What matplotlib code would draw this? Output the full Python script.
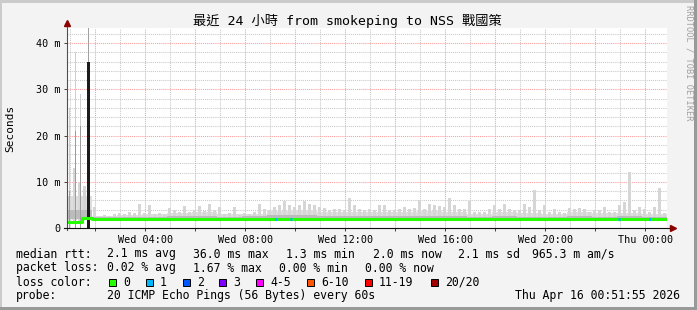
import matplotlib
matplotlib.use('Agg')
import matplotlib.pyplot as plt
import matplotlib.dates as mdates
from matplotlib.patches import Rectangle
from matplotlib.ticker import MultipleLocator, FuncFormatter
import numpy as np
import pandas as pd

# ---- data (ms) ----
t_start = '2026-04-15 00:51:55'
t_end = '2026-04-16 00:51:55'

# top of the light smoke, one value per 12 min
smoke_hi = [7.0, 13.0, 10.0, 9.0, 4.5, 4.5, 2.6, 2.8, 2.6, 3.0,
            3.2, 3.0, 3.4, 3.3, 5.1, 3.3, 4.9, 3.0, 3.2, 2.9,
            4.3, 4.0, 3.4, 4.8, 3.5, 3.9, 4.8, 3.6, 5.3, 3.9,
            4.5, 3.0, 3.2, 4.6, 2.9, 3.2, 3.0, 3.4, 5.3, 4.2,
            4.0, 4.6, 5.0, 5.8, 5.0, 4.6, 5.0, 5.8, 5.3, 4.9,
            4.6, 4.3, 4.0, 4.2, 4.2, 3.8, 6.6, 5.0, 4.2, 4.0,
            4.2, 3.9, 5.0, 5.0, 3.9, 3.8, 4.2, 4.6, 4.2, 4.4,
            6.0, 4.2, 5.3, 5.0, 4.8, 4.6, 6.5, 5.0, 4.2, 4.2,
            5.8, 3.5, 3.4, 3.5, 4.2, 5.0, 4.2, 5.3, 4.2, 4.0,
            3.9, 5.2, 4.6, 8.2, 3.9, 5.0, 3.4, 4.2, 3.4, 3.2,
            4.3, 4.2, 4.4, 4.2, 3.5, 3.9, 3.9, 4.6, 3.5, 3.5,
            5.0, 5.7, 12.2, 3.9, 4.6, 4.2, 3.5, 4.6, 8.6, 3.2]

# median rtt, one value per 12 min
median = [1.3, 1.3, 1.3, 2.1, 2.1, 2.05, 1.85, 2.05, 2.05, 2.05,
          2.05, 2.05, 1.85, 2.05, 2.05, 2.05, 2.05, 1.85, 2.05, 1.85,
          2.05, 2.05, 2.05, 2.05, 2.05, 1.85, 2.05, 2.05, 2.05, 2.05,
          2.05, 2.05, 1.85, 2.05, 2.05, 2.05, 2.05, 2.05, 2.05, 1.85,
          2.05, 2.05, 1.95, 2.05, 2.05, 1.85, 2.05, 2.05, 2.05, 2.05,
          1.85, 2.05, 2.05, 2.05, 2.05, 2.05, 2.05, 1.85, 2.05, 2.05,
          2.05, 2.05, 1.85, 2.05, 2.05, 2.05, 2.05, 2.05, 2.05, 2.05,
          2.05, 2.05, 2.05, 1.85, 2.05, 2.05, 2.05, 2.05, 2.05, 2.05,
          2.05, 1.85, 1.85, 2.05, 2.05, 2.05, 2.05, 2.05, 2.05, 2.05,
          2.05, 1.85, 1.85, 2.05, 2.05, 2.05, 1.85, 2.05, 2.05, 1.85,
          2.05, 2.05, 2.05, 2.05, 1.85, 2.05, 2.05, 2.05, 1.85, 2.05,
          2.05, 1.85, 2.05, 1.85, 2.05, 2.05, 2.05, 1.85, 2.05, 1.85]

# continuous smoke bands, one value per hour
smoke_band = [7.0, 2.6, 2.9, 3.0, 3.3, 3.4, 3.0, 3.0, 3.6, 3.8, 3.5, 3.4,
              3.4, 3.5, 3.6, 3.5, 3.0, 3.4, 3.3, 3.0, 3.4, 3.2, 3.3, 3.1]
smoke_dark = [4.0, 2.3, 2.4, 2.4, 2.5, 2.5, 2.4, 2.5, 2.8, 2.9, 2.7, 2.6,
              2.5, 2.6, 2.7, 2.6, 2.4, 2.5, 2.4, 2.3, 2.5, 2.4, 2.5, 2.4]

# early big outliers
spike_times = ['2026-04-15 00:57', '2026-04-15 01:13', '2026-04-15 01:25']
spike_top = [26, 38, 29]
spike_mid = [8, 21, 22]
peak_time = '2026-04-15 01:43:30'
peak_median = 36.0
peak_top = 44.0

# samples with 1/20 loss
loss_times = ['2026-04-15 09:11', '2026-04-15 09:47',
              '2026-04-15 22:54', '2026-04-16 00:08']

loss_labels = ['0', '1', '2', '3', '4-5', '6-10', '11-19', '20/20']
loss_colors = ['#26ff00', '#00b8ff', '#0059ff', '#7e00ff',
               '#ff00ff', '#ff5500', '#ff0000', '#a10000']

W, H = 697, 310
plt.rcParams['font.family'] = ['DejaVu Sans Mono', 'Noto Sans CJK TC']

fig = plt.figure(figsize=(W / 100, H / 100), dpi=100, facecolor='#f3f3f3')
ax = fig.add_axes([67 / W, 1 - 228 / H, 600 / W, 200 / H])
ax.set_facecolor('white')

slots = mdates.date2num(pd.date_range(t_start, periods=121, freq='12min').to_pydatetime())
hours = mdates.date2num(pd.date_range(t_start, periods=25, freq='60min').to_pydatetime())
px = 1.0 / 600  # one pixel in days (24h over 600 px)

light = '#d6d6d6'
mid = '#bcbcbc'

ax.fill_between(hours, 1.9, smoke_band + [smoke_band[-1]], step='post',
                color='#dedede', lw=0, zorder=2)
centers = (slots[:-1] + slots[1:]) / 2
ax.bar(centers, np.array(smoke_hi) - np.array(median), bottom=median,
       width=2.8 * px, color=light, lw=0, zorder=2)
ax.fill_between(hours, 1.9, smoke_dark + [smoke_dark[-1]], step='post',
                color=mid, lw=0, zorder=3)

st = mdates.date2num(pd.to_datetime(spike_times).to_pydatetime())
ax.bar(st, spike_top, width=1.2 * px, color='#cfcfcf', lw=0, zorder=3)
ax.bar(st, spike_mid, width=1.2 * px, color='#9c9c9c', lw=0, zorder=3)

pt = mdates.date2num(pd.Timestamp(peak_time).to_pydatetime())
ax.bar([pt], [peak_top], width=1.0 * px, color='#a0a0a0', lw=0, zorder=4)
ax.bar([pt], [peak_median], width=2.6 * px, color='#1c1c1c', lw=0, zorder=5)

ax.step(slots, median + [median[-1]], where='post', color=loss_colors[0],
        lw=2.2, zorder=6, solid_capstyle='butt')
for t in pd.to_datetime(loss_times):
    t0 = mdates.date2num(t.to_pydatetime())
    ax.plot([t0, t0 + 2 * px], [2.0, 2.0], color=loss_colors[1], lw=2.2,
            solid_capstyle='butt', zorder=7)

ax.set_xlim(mdates.date2num(pd.Timestamp(t_start).to_pydatetime()),
            mdates.date2num(pd.Timestamp(t_end).to_pydatetime()))
ax.set_ylim(0, 43.3)

ax.xaxis.set_major_locator(mdates.HourLocator(byhour=range(0, 24, 2)))
ax.xaxis.set_minor_locator(mdates.HourLocator())


def xfmt(v, pos):
    d = mdates.num2date(v)
    return d.strftime('%a %H:%M') if d.hour % 4 == 0 else ''


ax.xaxis.set_major_formatter(FuncFormatter(xfmt))
ax.yaxis.set_major_locator(MultipleLocator(10))
ax.yaxis.set_minor_locator(MultipleLocator(2))
ax.yaxis.set_major_formatter(FuncFormatter(lambda v, p: '0' if v == 0 else '%d m' % v))

ax.set_axisbelow(True)
ax.grid(which='major', color='#ff9a9a', ls=(0, (1, 1)), lw=0.75)
ax.grid(which='minor', color='#c8c8c8', ls=(0, (1, 1)), lw=0.75)
ax.tick_params(which='major', length=2, width=0.7, color='#404040',
               labelsize=7.3, pad=3)
ax.tick_params(which='minor', length=0)
for s in ax.spines.values():
    s.set_visible(False)

# axis lines with arrow heads
ax.plot([0, 0], [-0.01, 1.025], transform=ax.transAxes, color='#505050',
        lw=0.8, clip_on=False, zorder=8)
ax.plot([-0.005, 1.008], [0, 0], transform=ax.transAxes, color='#101010',
        lw=0.8, clip_on=False, zorder=8)
ax.plot(0, 1.025, marker='^', ms=5, color='#8b0000', transform=ax.transAxes,
        clip_on=False, zorder=9)
ax.plot(1.01, 0, marker='>', ms=5, color='#8b0000', transform=ax.transAxes,
        clip_on=False, zorder=9)


def fx(x):
    return x / W


def fy(y):
    return 1 - y / H


fig.text(fx(347), fy(21), '最近 24 小時 from smokeping to NSS 戰國策',
         ha='center', va='center', fontsize=9.5)
fig.text(fx(10), fy(128), 'Seconds', rotation=90, ha='center', va='center',
         fontsize=8)
fig.text(fx(689), fy(5), 'RRDTOOL / TOBI OETIKER', rotation=270, ha='center',
         va='top', fontsize=6.2, color='#a0a0a0')

fs = 8.3
rows = [
    (254, [(16, 'median rtt:'), (107, '2.1 ms avg'), (193, '36.0 ms max'),
           (286, '1.3 ms min'), (373, '2.0 ms now'), (458, '2.1 ms sd'),
           (532, '965.3 m am/s')]),
    (268, [(16, 'packet loss:'), (107, '0.02 % avg'), (193, '1.67 % max'),
           (279, '0.00 % min'), (365, '0.00 % now')]),
    (296, [(16, 'probe:'), (107, '20 ICMP Echo Pings (56 Bytes) every 60s')]),
]
for y, items in rows:
    for x, s in items:
        fig.text(fx(x), fy(y), s, ha='left', va='center', fontsize=fs)
fig.text(fx(680), fy(296), 'Thu Apr 16 00:51:55 2026', ha='right',
         va='center', fontsize=fs)

fig.text(fx(16), fy(282), 'loss color:', ha='left', va='center', fontsize=fs)
box_x = [109, 146, 183, 219, 256, 307, 365, 431]
for bx, lab, c in zip(box_x, loss_labels, loss_colors):
    fig.patches.append(Rectangle((fx(bx), fy(286)), 7 / W, 7 / H,
                                 transform=fig.transFigure, facecolor=c,
                                 edgecolor='black', lw=0.7))
    fig.text(fx(bx + 14), fy(282), lab, ha='left', va='center', fontsize=fs)

# 3d-ish frame
fig.patches.append(Rectangle((0, 1 - 3 / H), 1, 3 / H, transform=fig.transFigure,
                             facecolor='#cbcbcb', lw=0))
fig.patches.append(Rectangle((0, 0), 2 / W, 1, transform=fig.transFigure,
                             facecolor='#cbcbcb', lw=0))
fig.patches.append(Rectangle((1 - 3 / W, 0), 3 / W, 1, transform=fig.transFigure,
                             facecolor='#999999', lw=0))
fig.patches.append(Rectangle((0, 0), 1, 3 / H, transform=fig.transFigure,
                             facecolor='#999999', lw=0))

fig.savefig('out.png', dpi=100, facecolor=fig.get_facecolor())
